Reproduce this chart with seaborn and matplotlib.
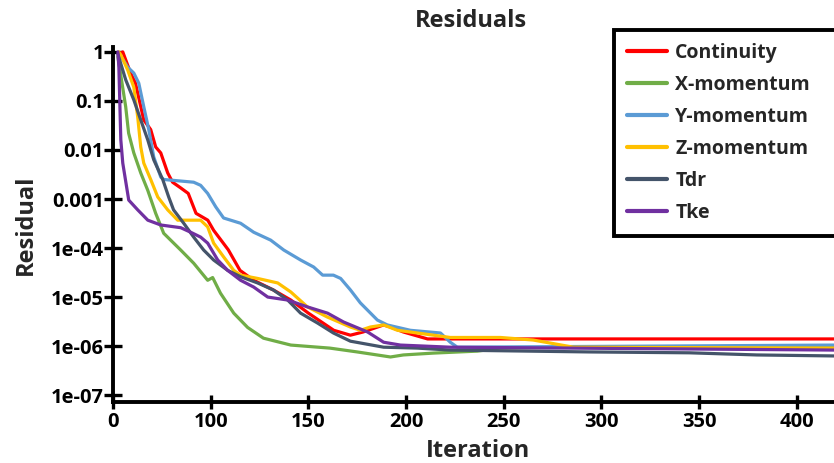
import numpy as np
import pandas as pd
import matplotlib
matplotlib.use("Agg")
import matplotlib.pyplot as plt
import seaborn as sns
from matplotlib.ticker import FixedLocator, FixedFormatter, NullLocator
from matplotlib.legend_handler import HandlerLine2D

# ---------------- data ----------------
series_names = ["Continuity", "X-momentum", "Y-momentum", "Z-momentum", "Tdr", "Tke"]
series_colors = ["#FF0000", "#70AD47", "#5B9BD5", "#FFC000", "#44546A", "#7030A0"]

continuity_iter = [6, 10, 18, 23, 31.5, 38.6, 43.7, 48.9, 56, 61, 69, 77, 85, 97, 101.5, 109, 115,
                   122, 132, 141, 150, 163, 171.5, 178, 188.5, 192, 198.6, 211, 419]
continuity_res = [0.9, 1.0, 0.37, 0.23, 0.041, 0.026, 0.0115, 0.0087, 0.0034, 0.0022, 0.0017, 0.0013,
                  5.1e-4, 3.7e-4, 2.3e-4, 9.2e-5, 3.5e-5, 2.2e-5, 1.4e-5, 8.7e-6, 4.7e-6, 2.1e-6,
                  1.67e-6, 1.94e-6, 2.7e-6, 2.45e-6, 1.94e-6, 1.4e-6, 1.4e-6]

xmom_iter = [5, 13, 16, 21.3, 28.4, 35.6, 43.7, 51.9, 59, 69.3, 82.6, 96.9, 101, 105, 111.8, 118.9,
             127, 141, 161, 175, 192, 198.6, 214, 236.5, 248, 291, 419]
xmom_res = [0.8, 0.076, 0.022, 0.0087, 0.0034, 0.0015, 5.1e-4, 2.0e-4, 1.45e-4, 9.1e-5, 4.9e-5,
            2.2e-5, 2.5e-5, 1.2e-5, 4.7e-6, 2.4e-6, 1.45e-6, 1.05e-6, 9.1e-7, 7.6e-7, 6.0e-7,
            6.6e-7, 7.2e-7, 7.9e-7, 9.1e-7, 9.5e-7, 1.0e-6]

ymom_iter = [6, 15, 21.3, 26.4, 31.5, 36.6, 41.7, 48.9, 51.9, 82.6, 89.7, 96.9, 102.6, 106.6, 115.3,
             122, 130.7, 137.4, 146, 152.7, 157.3, 162.8, 166.5, 171.5, 176.6, 185.3, 190.4, 202.2,
             217.6, 222.6, 226.2, 419]
ymom_res = [0.95, 0.49, 0.37, 0.23, 0.076, 0.026, 0.0072, 0.0028, 0.0025, 0.0022, 0.0019, 0.0013,
            6.9e-4, 4.1e-4, 3.2e-4, 2.1e-4, 1.45e-4, 9.1e-5, 5.7e-5, 4.1e-5, 2.8e-5, 2.8e-5, 2.4e-5,
            1.4e-5, 7.6e-6, 3.4e-6, 2.7e-6, 2.1e-6, 1.85e-6, 1.2e-6, 9.5e-7, 1.05e-6]

zmom_iter = [6, 8, 15, 21.3, 25.3, 28.4, 31.5, 38.6, 45.8, 56, 66.2, 89.7, 96.9, 101.5, 106.6, 111.8,
             115.3, 124, 134.3, 141, 149.5, 159.8, 171.5, 176.6, 181.7, 188.5, 195.6, 205.8, 222.6,
             248.3, 265, 274, 285.6, 419]
zmom_res = [1.0, 0.87, 0.43, 0.19, 0.047, 0.0115, 0.0054, 0.0025, 0.0011, 6.0e-4, 3.7e-4, 3.7e-4,
            2.7e-4, 1.26e-4, 6.6e-5, 3.5e-5, 2.8e-5, 2.4e-5, 1.94e-5, 1.27e-5, 6.3e-6, 3.9e-6,
            2.45e-6, 2.1e-6, 2.45e-6, 2.7e-6, 2.1e-6, 1.85e-6, 1.5e-6, 1.5e-6, 1.33e-6, 1.15e-6,
            9.5e-7, 9.1e-7]

tdr_iter = [5, 13, 21.3, 28.4, 35.6, 41.7, 50.9, 57, 62, 72.4, 82.6, 92.8, 101.5, 108.7, 115.3, 124,
            132, 139.4, 146, 154.7, 162.8, 171.5, 188.5, 205.8, 222.6, 294, 345, 379.5, 419]
tdr_res = [0.9, 0.27, 0.105, 0.041, 0.016, 0.0063, 0.0025, 0.0011, 6.0e-4, 3.2e-4, 1.67e-4, 9.1e-5,
           5.7e-5, 3.5e-5, 2.6e-5, 1.94e-5, 1.4e-5, 8.7e-6, 4.7e-6, 2.95e-6, 1.85e-6, 1.26e-6,
           9.5e-7, 9.1e-7, 8.3e-7, 7.6e-7, 7.3e-7, 6.6e-7, 6.3e-7]

tke_iter = [5, 6, 8, 10, 16.1, 25.3, 35.6, 48.9, 69.3, 79.5, 89.7, 96.9, 103.6, 108.7, 115.3, 122,
            129.2, 139.4, 149.5, 159.8, 168, 180.3, 188.5, 197.1, 222.6, 419]
tke_res = [1.0, 0.49, 0.016, 0.0054, 9.5e-4, 6.0e-4, 3.7e-4, 2.95e-4, 2.6e-4, 2.1e-4, 1.67e-4,
           1.26e-4, 5.7e-5, 3.5e-5, 2.2e-5, 1.6e-5, 1.0e-5, 8.7e-6, 6.3e-6, 4.7e-6, 3.1e-6,
           1.94e-6, 1.2e-6, 1.05e-6, 9.5e-7, 8.3e-7]

x_ticks = [0, 100, 150, 200, 250, 300, 350, 400]
x_tick_labels = ["0", "100", "150", "200", "250", "300", "350", "400"]
y_ticks = [1, 0.1, 0.01, 0.001, 1e-4, 1e-5, 1e-6, 1e-7]
y_tick_labels = ["1", "0.1", "0.01", "0.001", "1e-04", "1e-05", "1e-06", "1e-07"]

title_text = "Residuals"
x_label = "Iteration"
y_label = "Residual"

# ---------------- frame ----------------
all_iters = [continuity_iter, xmom_iter, ymom_iter, zmom_iter, tdr_iter, tke_iter]
all_res = [continuity_res, xmom_res, ymom_res, zmom_res, tdr_res, tke_res]
frames = []
for name, it, rs in zip(series_names, all_iters, all_res):
    frames.append(pd.DataFrame({"Iteration": it, "Residual": rs, "Series": name}))
df = pd.concat(frames, ignore_index=True)

sns.set_theme(style="white")
plt.rcParams["font.family"] = ["Open Sans", "DejaVu Sans"]
plt.rcParams["font.weight"] = "bold"

W, H = 834, 463
fig = plt.figure(figsize=(W / 100, H / 100), dpi=100)
ax = fig.add_axes([113 / W, 1 - 402 / H, (W - 113) / W, (402 - 47) / H])

palette = dict(zip(series_names, series_colors))
sns.lineplot(data=df, x="Iteration", y="Residual", hue="Series", hue_order=series_names,
             palette=palette, estimator=None, sort=False, linewidth=2.3, ax=ax, legend=True)


def fwd(x):
    x = np.asarray(x, dtype=float)
    return np.where(x <= 100, x / 2.0, x - 50.0)


def inv(u):
    u = np.asarray(u, dtype=float)
    return np.where(u <= 50, u * 2.0, u + 50.0)


ax.set_xscale("function", functions=(fwd, inv))
ax.set_yscale("log")
ax.set_xlim(0, 419)
ax.set_ylim(10 ** -7.14, 10 ** 0.10)

ax.xaxis.set_major_locator(FixedLocator(x_ticks))
ax.xaxis.set_major_formatter(FixedFormatter(x_tick_labels))
ax.xaxis.set_minor_locator(NullLocator())
ax.yaxis.set_major_locator(FixedLocator(y_ticks))
ax.yaxis.set_major_formatter(FixedFormatter(y_tick_labels))
ax.yaxis.set_minor_locator(NullLocator())

for side in ["top", "right"]:
    ax.spines[side].set_visible(False)
for side in ["left", "bottom"]:
    ax.spines[side].set_color("black")
    ax.spines[side].set_linewidth(2.8)

ax.tick_params(axis="y", direction="inout", length=13, width=2.4, color="black",
               labelsize=14.5, pad=0, left=True)
ax.tick_params(axis="x", direction="inout", length=10, width=2.4, color="black",
               labelsize=14.5, pad=2, bottom=True)
for lab in ax.get_xticklabels() + ax.get_yticklabels():
    lab.set_fontweight("bold")
    lab.set_color("black")

ax.set_xlabel("")
ax.set_ylabel("")
fig.text(478 / W, 1 - 457 / H, x_label, ha="center", va="baseline", fontsize=17, fontweight="bold")
fig.text(32 / W, 1 - 225 / H, y_label, ha="center", va="baseline", rotation=90,
         rotation_mode="anchor", fontsize=17, fontweight="bold")
fig.text(471 / W, 1 - 27 / H, title_text, ha="center", va="baseline", fontsize=17, fontweight="bold")


class ShiftedLineHandler(HandlerLine2D):
    def create_artists(self, legend, orig_handle, xdescent, ydescent, width, height, fontsize, trans):
        arts = super().create_artists(legend, orig_handle, xdescent, ydescent, width, height,
                                      fontsize, trans)
        for a in arts:
            xd = np.asarray(a.get_xdata(), dtype=float)
            if len(xd) == 2:
                a.set_xdata([xd[0] + 0.33 * (xd[1] - xd[0]), xd[1]])
        return arts


handles, labels = ax.get_legend_handles_labels()
if ax.get_legend() is not None:
    ax.get_legend().remove()
leg = fig.legend(handles, labels, loc="upper left",
                 bbox_to_anchor=(614 / W, 0, 260 / W, 1 - 30 / H), bbox_transform=fig.transFigure,
                 mode="expand", frameon=True, fancybox=False, edgecolor="black", framealpha=1,
                 prop={"family": ["Open Sans", "DejaVu Sans"], "weight": "bold", "size": 14},
                 handlelength=2.1, handletextpad=0.4, borderpad=0.65, labelspacing=0.62,
                 borderaxespad=0, handler_map={plt.Line2D: ShiftedLineHandler()})
leg.get_frame().set_linewidth(2.8)
for ln in leg.get_lines():
    ln.set_linewidth(3)

fig.savefig("out.png", dpi=100)
